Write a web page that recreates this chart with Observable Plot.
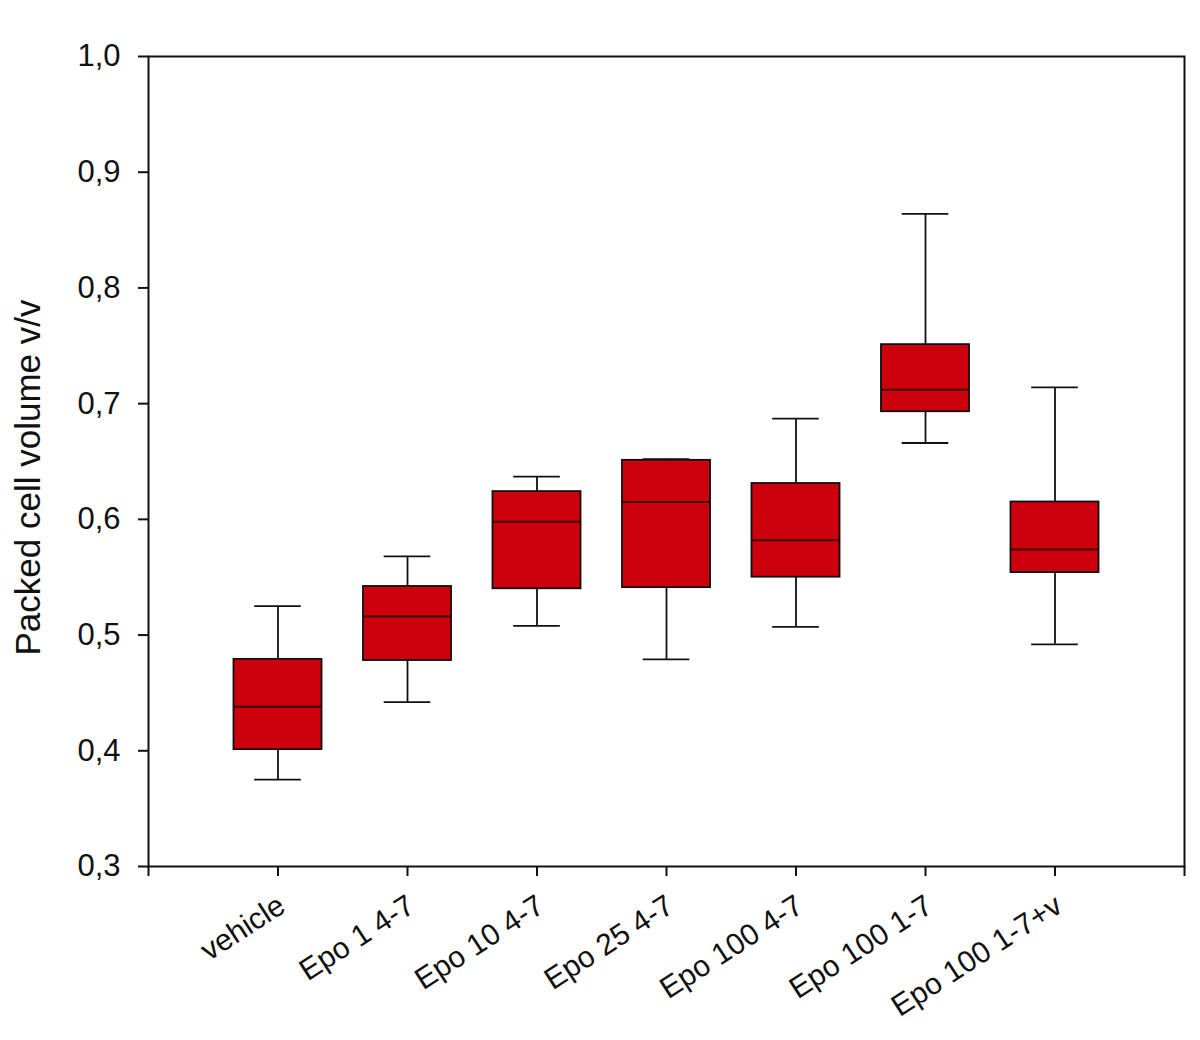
<!DOCTYPE html>
<html>
<head>
<meta charset="utf-8">
<script src="https://cdn.jsdelivr.net/npm/d3@7"></script>
<script src="https://cdn.jsdelivr.net/npm/@observablehq/plot@0.6"></script>
<style>
  html, body { margin: 0; padding: 0; background: #fff; }
  #chart svg { display: block; }
</style>
</head>
<body>
<div id="chart"></div>
<script>
const categories = ["vehicle", "Epo 1 4-7", "Epo 10 4-7", "Epo 25 4-7", "Epo 100 4-7", "Epo 100 1-7", "Epo 100 1-7+v"];
const whiskerLow  = [0.375, 0.442, 0.508, 0.479, 0.507, 0.666, 0.492];
const quart1      = [0.401, 0.478, 0.540, 0.541, 0.550, 0.693, 0.554];
const medians     = [0.438, 0.516, 0.598, 0.615, 0.582, 0.712, 0.574];
const quart3      = [0.479, 0.542, 0.624, 0.651, 0.631, 0.751, 0.615];
const whiskerHigh = [0.525, 0.568, 0.637, 0.652, 0.687, 0.864, 0.714];
const yTicks = [0.3, 0.4, 0.5, 0.6, 0.7, 0.8, 0.9, 1.0];
const xTicks = [0, 1, 2, 3, 4, 5, 6, 7, 8];
const yLabel = "Packed cell volume v/v";

const data = categories.map((c, i) => ({
  cat: c, pos: i + 1,
  lo: whiskerLow[i], q1: quart1[i], med: medians[i], q3: quart3[i], hi: whiskerHigh[i]
}));

const boxHalf = 0.34, capHalf = 0.18;
const font = "'Liberation Sans', Arial, sans-serif";

const chart = Plot.plot({
  width: 1200,
  height: 1040,
  marginLeft: 148,
  marginRight: 16,
  marginTop: 56,
  marginBottom: 174,
  style: { fontFamily: font, fontSize: "31px", color: "#111", background: "#fff" },
  x: { domain: [0, 8], axis: null },
  y: { domain: [0.3, 1.0], axis: null },
  marks: [
    Plot.ruleX(data, { x: "pos", y1: "q3", y2: "hi", stroke: "#111", strokeWidth: 1.8 }),
    Plot.ruleX(data, { x: "pos", y1: "lo", y2: "q1", stroke: "#111", strokeWidth: 1.8 }),
    Plot.ruleY(data, { y: "hi", x1: d => d.pos - capHalf, x2: d => d.pos + capHalf, stroke: "#111", strokeWidth: 1.8 }),
    Plot.ruleY(data, { y: "lo", x1: d => d.pos - capHalf, x2: d => d.pos + capHalf, stroke: "#111", strokeWidth: 1.8 }),
    Plot.rect(data, { x1: d => d.pos - boxHalf, x2: d => d.pos + boxHalf, y1: "q1", y2: "q3", fill: "#cd000d", stroke: "#111", strokeWidth: 1.8 }),
    Plot.ruleY(data, { y: "med", x1: d => d.pos - boxHalf, x2: d => d.pos + boxHalf, stroke: "#3a0000", strokeWidth: 2 }),
    Plot.frame({ stroke: "#111", strokeWidth: 2 }),
    Plot.axisY({ ticks: yTicks, tickFormat: d => d3.format(".1f")(d).replace(".", ","), tickSize: 10, tickPadding: 18, strokeWidth: 2, label: null, fontSize: 31 }),
    Plot.axisX({ ticks: xTicks, tickFormat: () => "", tickSize: 10, strokeWidth: 2, label: null }),
    Plot.axisX({ ticks: [1, 2, 3, 4, 5, 6, 7], tickFormat: d => categories[d - 1], tickSize: 0, tickPadding: 36, tickRotate: -33, label: null, fontSize: 30, dx: 4 }),
    Plot.text([yLabel], { frameAnchor: "left", textAnchor: "middle", dx: -120, dy: 16, rotate: -90, fontSize: 35, fill: "#111" })
  ]
});
document.getElementById("chart").appendChild(chart);
</script>
</body>
</html>
